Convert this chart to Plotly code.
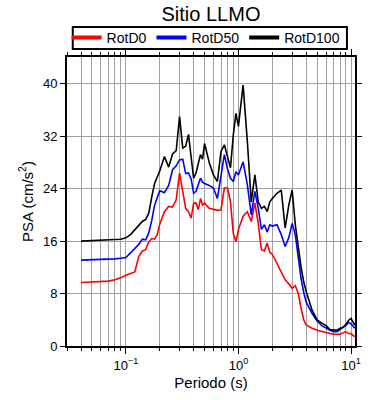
import numpy as np
import plotly.graph_objects as go

periods = [0.04, 0.05, 0.06, 0.07, 0.08, 0.09, 0.10, 0.11, 0.12, 0.13, 0.14, 0.15, 0.16, 0.17,
           0.18, 0.19, 0.20, 0.22, 0.24, 0.26, 0.28, 0.30, 0.32, 0.34, 0.36, 0.38, 0.40, 0.42,
           0.44, 0.46, 0.48, 0.50, 0.55, 0.60, 0.65, 0.70, 0.75, 0.80, 0.85, 0.90, 0.95, 1.0,
           1.1, 1.2, 1.3, 1.4, 1.5, 1.6, 1.7, 1.8, 1.9, 2.0, 2.2, 2.4, 2.6, 2.8, 3.0, 3.2,
           3.4, 3.6, 3.8, 4.0, 4.5, 5.0, 5.5, 6.0, 6.5, 7.0, 7.5, 8.0, 8.5, 9.0, 9.5, 10.0, 10.8]

rotd0 = [9.7, 9.75, 9.8, 9.9, 10.1, 10.4, 10.8, 11.1, 11.3, 13.6, 14.5, 14.7, 15.9, 16.4,
         16.3, 17.0, 18.6, 20.5, 21.3, 21.2, 22.3, 26.4, 23.6, 21.0, 20.5, 19.5, 21.8, 21.8,
         20.8, 22.5, 21.5, 21.8, 21.0, 20.8, 20.7, 20.8, 24.1, 24.1, 22.0, 17.2, 15.9, 17.8,
         19.8, 20.5, 19.0, 21.8, 18.7, 14.7, 14.5, 15.7, 14.3, 14.0, 12.6, 11.2, 10.1, 9.5, 8.8, 9.2,
         8.0, 5.8, 4.0, 3.2, 2.7, 2.4, 2.2, 2.0, 1.9, 1.8, 1.8, 1.8, 2.0, 2.2, 1.9, 1.9, 1.4]

rotd50 = [13.1, 13.15, 13.2, 13.25, 13.3, 13.4, 13.5, 14.2, 14.9, 15.5, 16.3, 16.2, 17.3, 19.2,
          21.5, 22.8, 23.7, 23.4, 24.5, 26.9, 27.5, 28.4, 28.5, 26.3, 26.4, 25.5, 23.3, 23.6,
          24.8, 25.6, 25.0, 24.8, 24.5, 24.1, 22.5, 26.0, 29.2, 27.0, 25.6, 25.1, 26.6, 26.1,
          28.1, 24.6, 20.0, 23.6, 21.0, 17.8, 18.5, 17.4, 18.5, 18.3, 18.5, 17.0, 15.2, 16.5, 18.7, 17.0,
          13.5, 10.3, 8.2, 6.7, 5.0, 3.8, 3.1, 2.7, 2.4, 2.2, 2.2, 2.5, 2.9, 3.1, 3.6, 3.4, 2.7]

rotd100 = [16.0, 16.05, 16.1, 16.15, 16.25, 16.3, 16.5, 17.0, 17.7, 18.5, 19.0, 19.3, 20.3, 22.8,
           24.8, 25.8, 26.7, 28.9, 27.3, 29.3, 29.8, 35.0, 30.2, 30.5, 32.3, 28.8, 25.6, 26.4,
           27.8, 29.2, 28.5, 30.9, 28.0, 26.1, 25.1, 29.7, 30.7, 29.0, 27.2, 32.2, 35.5, 33.5,
           39.8, 31.2, 22.0, 26.1, 22.0, 21.0, 21.3, 20.5, 22.0, 22.5, 23.3, 23.8, 18.0, 21.5, 23.8, 18.5,
           15.0, 12.0, 9.8, 8.3, 5.5, 4.0, 3.5, 3.1, 2.5, 2.4, 2.4, 2.7, 2.8, 3.3, 3.9, 4.2, 3.2]

series_names = ["RotD0", "RotD50", "RotD100"]
series_colors = ["#ff0000", "#0000ff", "#000000"]

x_major = [0.1, 1, 10]
x_major_text = ["10<sup>\u22121</sup>", "10<sup>0</sup>", "10<sup>1</sup>"]
x_minor = [m * d for d in (0.01, 0.1, 1) for m in range(2, 10) if 0.03 <= m * d <= 10.9]
y_ticks = [0, 8, 16, 24, 32, 40]

fig = go.Figure()
for name, vals, col in zip(series_names, [rotd0, rotd50, rotd100], series_colors):
    fig.add_trace(go.Scatter(x=periods, y=vals, mode="lines", name=name, showlegend=False,
                             line=dict(color=col, width=1.6)))
# legend entries with thicker line symbols
for name, col in zip(series_names, series_colors):
    fig.add_trace(go.Scatter(x=[None], y=[None], mode="lines", name=name,
                             line=dict(color=col, width=4)))

# legend frame
fig.add_shape(type="rect", xref="paper", yref="paper", x0=0.02, x1=0.972, y0=1.0277, y1=1.1038,
              line=dict(color="black", width=2), fillcolor="rgba(0,0,0,0)", layer="above")

font = "Liberation Sans, Arial, sans-serif"
fig.update_layout(
    width=390, height=400,
    margin=dict(l=67, r=35, t=57, b=54, autoexpand=False),
    paper_bgcolor="white", plot_bgcolor="white",
    font=dict(family=font, color="black", size=13),
    title=dict(text="Sitio LLMO", x=0.541, xanchor="center", y=0.965, yanchor="middle",
               font=dict(size=20)),
    showlegend=True,
    legend=dict(orientation="h", x=0.483, xanchor="center", y=1.0657, yanchor="middle",
                borderwidth=0, bgcolor="rgba(0,0,0,0)", font=dict(size=14),
                tracegroupgap=0),
    xaxis=dict(type="log", range=[np.log10(0.03), np.log10(10.85)],
               tickmode="array", tickvals=x_major, ticktext=x_major_text,
               ticks="outside", ticklen=6, tickwidth=1, tickcolor="black",
               showline=True, linecolor="black", linewidth=2, mirror="allticks",
               showgrid=True, gridcolor="#a0a0a0", gridwidth=1,
               minor=dict(tickmode="array", tickvals=x_minor, ticks="outside", ticklen=3,
                          tickcolor="black", showgrid=True, gridcolor="#a0a0a0", gridwidth=1),
               zeroline=False, tickfont=dict(size=13),
               title=dict(text="Periodo (s)", font=dict(size=15), standoff=6)),
    yaxis=dict(range=[0, 44.1], tickmode="array", tickvals=y_ticks,
               ticks="outside", ticklen=5, tickwidth=1, tickcolor="black",
               showline=True, linecolor="black", linewidth=2, mirror="allticks",
               showgrid=True, gridcolor="#a0a0a0", gridwidth=1, zeroline=False,
               tickfont=dict(size=13),
               title=dict(text="PSA (cm/s<sup>2</sup>)", font=dict(size=15), standoff=6)),
)

fig.write_html("out.html", config={"displayModeBar": False},
               post_script="document.body.style.margin='0';")
